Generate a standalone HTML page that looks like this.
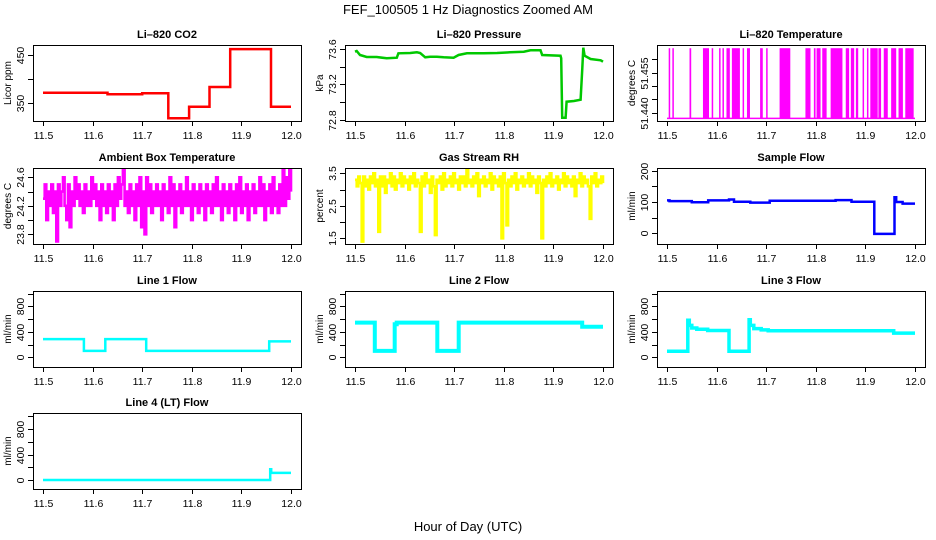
<!DOCTYPE html>
<html><head><meta charset="utf-8"><style>
html,body{margin:0;padding:0;background:#fff;}
svg{display:block;font-family:"Liberation Sans",Arial,sans-serif;}
</style></head><body>
<svg id="c" width="936" height="540" viewBox="0 0 936 540">
<text x="468" y="14" font-size="13" text-anchor="middle">FEF_100505  1 Hz Diagnostics Zoomed AM</text>
<text x="468" y="531" font-size="13" text-anchor="middle">Hour of Day (UTC)</text>
</svg>
<script>
const xTicks = [11.5, 11.6, 11.7, 11.8, 11.9, 12.0];
const xTickLabels = ["11.5", "11.6", "11.7", "11.8", "11.9", "12.0"];

const co2Times = [11.5, 11.63, 11.70, 11.7527, 11.7945, 11.8356, 11.8774, 11.9596];
const co2Values = [372, 369, 371, 319, 343, 384, 463, 343];

const pressTimes = [11.5,11.5034,11.5101,11.5236,11.5438,11.5640,11.5842,11.5876,11.6112,11.6247,11.6314,11.6415,11.6516,11.6651,11.6786,11.6988,11.7089,11.7257,11.7594,11.7864,11.8133,11.8403,11.8538,11.8740,11.8774,11.9144,11.9158,11.9178,11.9245,11.9266,11.9414,11.9549,11.9582,11.9602,11.9629,11.9751,11.9953,12.0];
const pressValues = [73.570,73.577,73.532,73.510,73.510,73.495,73.502,73.551,73.555,73.563,73.555,73.506,73.513,73.513,73.506,73.502,73.532,73.551,73.551,73.555,73.563,73.570,73.585,73.585,73.532,73.525,73.495,72.826,72.826,73.006,73.014,73.029,73.382,73.615,73.525,73.487,73.473,73.457];

const liTempLow = 51.438;
const liTempHigh = 51.464;
const liTempStarts = [11.5034,11.5108,11.5454,11.5725,11.5901,11.6050,11.6118,11.6199,11.6308,11.6524,11.6612,11.6877,11.6999,11.7270,11.7791,11.7961,11.8015,11.8130,11.8299,11.8604,11.8706,11.8808,11.8943,11.9031,11.9099,11.9262,11.9370,11.9519,11.9668,11.9804];
const liTempEnds   = [11.5061,11.5118,11.5488,11.5847,11.5911,11.6060,11.6145,11.6267,11.6470,11.6551,11.6673,11.6931,11.7009,11.7486,11.7893,11.7995,11.8096,11.8218,11.8537,11.8672,11.8774,11.8855,11.8953,11.9041,11.9248,11.9316,11.9451,11.9621,11.9756,11.9973];

const ambientValues = [
24.3,24.5,24.0,24.4,24.2,24.5,24.1,24.4,23.7,24.5,
24.2,24.4,24.6,24.2,24.0,24.5,23.9,24.4,24.2,24.6,
24.3,24.5,24.2,24.4,24.1,24.5,24.2,24.4,24.2,24.6,
24.3,24.5,24.2,24.4,24.0,24.5,24.2,24.4,24.1,24.5,
24.2,24.4,24.0,24.5,24.2,24.6,24.3,24.5,24.7,24.2,
24.4,24.1,24.5,24.2,24.4,24.0,24.5,24.2,24.6,23.9,
24.4,23.8,24.6,24.2,24.5,24.1,24.4,24.2,24.5,24.2,
24.4,24.0,24.5,24.2,24.4,24.1,24.6,24.2,24.5,23.9,
24.4,24.2,24.5,24.1,24.4,24.2,24.6,24.2,24.4,24.0,
24.5,24.2,24.4,24.1,24.5,24.2,24.4,24.0,24.5,24.2,
24.4,24.1,24.5,24.2,24.6,24.2,24.4,24.0,24.5,24.2,
24.4,24.1,24.5,24.2,24.4,24.0,24.5,24.2,24.6,24.1,
24.4,24.2,24.5,24.0,24.4,24.2,24.5,24.1,24.4,24.2,
24.6,24.2,24.5,24.0,24.4,24.2,24.5,24.1,24.6,24.2,
24.4,24.1,24.5,24.2,24.7,24.2,24.6,24.3,24.7,24.4];

const rhValues = [
3.3,3.1,3.4,3.2,1.4,3.4,3.1,3.3,3.0,3.4,
3.2,3.5,3.1,3.3,1.7,3.4,3.1,3.4,2.9,3.3,
3.2,3.5,3.1,3.4,3.0,3.3,3.2,3.5,3.1,3.4,
3.2,3.3,3.0,3.4,3.2,3.5,3.1,3.3,3.2,1.7,
3.4,3.1,3.5,3.2,3.3,2.9,3.4,3.1,1.6,3.3,
3.2,3.4,3.0,3.5,3.1,3.3,3.2,3.4,3.1,3.5,
3.2,3.3,3.0,3.4,3.2,3.4,3.1,3.6,3.2,3.3,
3.1,3.4,3.2,3.5,2.8,3.3,3.2,3.4,3.1,3.3,
3.2,3.5,3.0,3.4,3.2,3.3,3.1,3.4,1.5,3.5,
3.2,1.9,3.3,3.1,3.4,3.2,3.5,3.0,3.3,3.2,
3.4,3.1,3.3,3.2,3.5,3.1,3.4,3.2,3.3,2.9,
3.4,3.2,1.5,3.3,3.1,3.4,3.2,3.5,3.1,3.3,
3.2,3.4,3.0,3.3,3.2,3.5,3.1,3.4,3.2,3.3,
3.1,3.4,2.8,3.3,3.2,3.5,3.1,3.4,3.2,3.3,
3.1,2.1,3.4,3.2,3.5,3.1,3.3,3.2,3.4,3.2];

const sampleTimes = [11.5,11.505,11.55,11.583,11.625,11.635,11.668,11.707,11.84,11.872,11.918,11.9587,11.962,11.975];
const sampleValues = [105,103,99,105,108,101,98,104,106,101,-2,115,100,95];

const line1Times = [11.5,11.5824,11.6256,11.708,11.956];
const line1Values = [285,100,285,100,250];
const line2Times = [11.5,11.540,11.580,11.584,11.666,11.709,11.958];
const line2Values = [545,100,520,545,100,545,480];
const line3Times = [11.5,11.542,11.545,11.55,11.56,11.582,11.625,11.6655,11.668,11.675,11.69,11.704,11.957];
const line3Values = [95,580,500,460,440,420,95,590,500,450,430,415,380];
const line4Times = [11.5,11.958,11.960];
const line4Values = [5,170,115];

const NS = "http://www.w3.org/2000/svg";
const svg = document.getElementById('c');
const colLeft = [33, 345, 657];
const rowTop = [45, 168, 291, 413];
const boxW = 268, boxH = 76;

function mk(tag, attrs, parent) {
  const e = document.createElementNS(NS, tag);
  for (const k in attrs) e.setAttribute(k, attrs[k]);
  (parent || svg).appendChild(e);
  return e;
}

function panel(name, col, row, title, ylab, v0, p0, v1, p1, ticks, labels) {
  const g = mk('g', {});
  
  
  const L = colLeft[col], T = rowTop[row];
  const xs = h => L + 10 + (h - 11.5) / 0.5 * 248;
  const ys = v => p0 + (v - v0) * (p1 - p0) / (v1 - v0);
  const t = mk('text', {x: L + boxW / 2, y: T - 7, 'font-size': 11, 'font-weight': 'bold', 'text-anchor': 'middle'}, g);
  t.textContent = title;
  
  
  const yl = mk('text', {x: 0, y: 0, 'font-size': 10, 'text-anchor': 'middle', transform: `translate(${L - 22},${T + boxH / 2}) rotate(-90)`}, g);
  yl.textContent = ylab;
  
  
  const plot = mk('g', {}, g);
  const cp = mk('clipPath', {id: 'cl' + name}, g);
  mk('rect', {x: L, y: T, width: boxW, height: boxH}, cp);
  plot.setAttribute('clip-path', 'url(#cl' + name + ')');
  
  
  const b = mk('rect', {x: L + 0.5, y: T + 0.5, width: boxW, height: boxH, fill: 'none', stroke: '#000', 'stroke-width': 1}, g);
  
  
  xTicks.forEach((h, i) => {
    const x = Math.round(xs(h)) + 0.5;
    mk('line', {x1: x, x2: x, y1: T + boxH, y2: T + boxH + 5, stroke: '#000'}, g);
    const tl = mk('text', {x: x, y: T + boxH + 18, 'font-size': 10.5, 'text-anchor': 'middle'}, g);
    tl.textContent = xTickLabels[i];
    
    
  });
  ticks.forEach((v, i) => {
    const y = Math.round(ys(v)) + 0.5;
    mk('line', {x1: L - 5, x2: L, y1: y, y2: y, stroke: '#000'}, g);
    if (labels[i]) {
      const tl = mk('text', {x: 0, y: 0, 'font-size': 10.5, 'text-anchor': 'middle', transform: `translate(${L - 9},${y}) rotate(-90)`}, g);
      tl.textContent = labels[i];
      
      
    }
  });
  return {xs, ys, plot};
}

function stepPath(p, times, vals) {
  let d = '';
  for (let i = 0; i < times.length; i++) {
    const x = p.xs(times[i]).toFixed(1), y = p.ys(vals[i]).toFixed(1);
    if (i === 0) d += `M${x},${y}`;
    else d += `L${x},${p.ys(vals[i - 1]).toFixed(1)}L${x},${y}`;
  }
  d += `L${p.xs(12.0).toFixed(1)},${p.ys(vals[vals.length - 1]).toFixed(1)}`;
  return d;
}
function linePath(p, times, vals) {
  return times.map((t, i) => (i ? 'L' : 'M') + p.xs(t).toFixed(1) + ',' + p.ys(vals[i]).toFixed(1)).join('');
}
function addPath(p, d, color, w, name) {
  const e = mk('path', {d: d, fill: 'none', stroke: color, 'stroke-width': w, 'stroke-linejoin': 'miter'}, p.plot);
  
  
  return e;
}

let p = panel('co2', 0, 0, 'Li\u2013820 CO2', 'Licor ppm', 350, 103.3, 450, 55.3, [350, 400, 450], ['350', '', '450']);
addPath(p, stepPath(p, co2Times, co2Values), '#ff0000', 2.5, 'co2-line');

p = panel('pressure', 1, 0, 'Li\u2013820 Pressure', 'kPa', 72.8, 120, 73.6, 49, [72.8, 73.0, 73.2, 73.4, 73.6], ['72.8', '', '73.2', '', '73.6']);
addPath(p, linePath(p, pressTimes, pressValues), '#00c800', 2.5, 'pressure-line');

p = panel('litemp', 2, 0, 'Li\u2013820 Temperature', 'degrees C', 51.440, 113, 51.455, 72.5, [51.440, 51.445, 51.450, 51.455, 51.460], ['51.440', '', '', '51.455', '']);
addPath(p, `M${p.xs(11.5)},${p.ys(liTempLow)}L${p.xs(12.0)},${p.ys(liTempLow)}`, '#ff00ff', 1.5, 'litemp-baseline');
liTempStarts.forEach((s, i) => {
  const x0 = p.xs(s), x1 = Math.max(p.xs(liTempEnds[i]), x0 + 1.5);
  const r = mk('rect', {x: x0, y: p.ys(liTempHigh), width: x1 - x0, height: p.ys(liTempLow) - p.ys(liTempHigh), fill: '#ff00ff'}, p.plot);
  
  
});

p = panel('ambient', 0, 1, 'Ambient Box Temperature', 'degrees C', 23.8, 234.3, 24.6, 177.3, [23.8, 24.0, 24.2, 24.4, 24.6], ['23.8', '', '24.2', '', '24.6']);
{
  const n = ambientValues.length;
  const ts = ambientValues.map((v, i) => 11.5 + i * 0.5 / (n - 1));
  addPath(p, stepPath(p, ts, ambientValues).replace(/L[^L]*$/, ''), '#ff00ff', 2.6, 'ambient-line');
}

p = panel('rh', 1, 1, 'Gas Stream RH', 'percent', 1.5, 238.3, 3.5, 173.3, [1.5, 2.0, 2.5, 3.0, 3.5], ['1.5', '', '2.5', '', '3.5']);
{
  const n = rhValues.length;
  const ts = rhValues.map((v, i) => 11.5 + i * 0.5 / (n - 1));
  addPath(p, stepPath(p, ts, rhValues).replace(/L[^L]*$/, ''), '#ffff00', 2.6, 'rh-line');
}

p = panel('sample', 2, 1, 'Sample Flow', 'ml/min', 0, 233.3, 200, 170.7, [0, 50, 100, 150, 200], ['0', '', '100', '', '200']);
addPath(p, stepPath(p, sampleTimes, sampleValues), '#0000ff', 2.5, 'sample-flow-line');

const flowTicks = [0, 200, 400, 600, 800, 1000];
const flowLabels = ['0', '', '400', '', '800', ''];
p = panel('line1', 0, 2, 'Line 1 Flow', 'ml/min', 0, 357.3, 800, 306.3, flowTicks, flowLabels);
addPath(p, stepPath(p, line1Times, line1Values), '#00ffff', 2.5, 'line1-flow-line');
p = panel('line2', 1, 2, 'Line 2 Flow', 'ml/min', 0, 357.3, 800, 306.3, flowTicks, flowLabels);
addPath(p, stepPath(p, line2Times, line2Values), '#00ffff', 4, 'line2-flow-line');
p = panel('line3', 2, 2, 'Line 3 Flow', 'ml/min', 0, 357.3, 800, 306.3, flowTicks, flowLabels);
addPath(p, stepPath(p, line3Times, line3Values), '#00ffff', 3.5, 'line3-flow-line');
p = panel('line4', 0, 3, 'Line 4 (LT) Flow', 'ml/min', 0, 480.3, 800, 428.7, flowTicks, flowLabels);
addPath(p, stepPath(p, line4Times, line4Values), '#00ffff', 2.5, 'line4-flow-line');
</script>
</body></html>
